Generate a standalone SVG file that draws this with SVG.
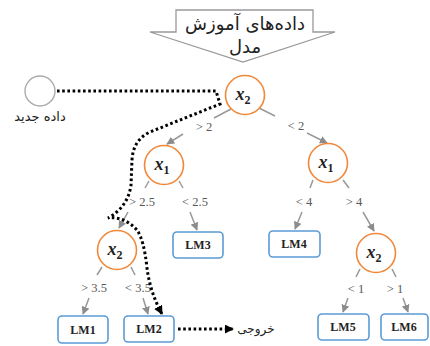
<svg xmlns="http://www.w3.org/2000/svg" width="430" height="346" viewBox="0 0 430 346">
<defs>
<marker id="ga" viewBox="0 0 10 10" refX="9" refY="5" markerWidth="8" markerHeight="8" markerUnits="userSpaceOnUse" orient="auto"><path d="M0,0 L10,5 L0,10 Z" fill="#8c8c8c"/></marker>
<marker id="ba" viewBox="0 0 10 10" refX="9" refY="5" markerWidth="9" markerHeight="9" markerUnits="userSpaceOnUse" orient="auto"><path d="M0,0 L10,5 L0,10 Z" fill="#000"/></marker>
<style>
.c{fill:#fff;stroke:#f0883a;stroke-width:1.6}
.b{fill:#fff;stroke:#5b9bd5;stroke-width:1.6}
.e{stroke:#999;stroke-width:1.5;fill:none}
.ea{stroke:#999;stroke-width:1.5;fill:none;marker-end:url(#ga)}
.d{stroke:#000;stroke-width:3;fill:none;stroke-dasharray:2.6 2.6}
.x{font-family:"Liberation Serif",serif;font-style:italic;font-weight:bold;font-size:18px;fill:#222;text-anchor:middle}
.x tspan{font-size:12px;font-style:normal}
.lm{font-family:"Liberation Serif",serif;font-weight:bold;font-size:12px;fill:#222;text-anchor:middle}
.l{font-family:"Liberation Serif",serif;font-size:12.5px;fill:#595959;text-anchor:middle}
.fa{font-family:"DejaVu Sans",sans-serif;fill:#222;text-anchor:middle}
</style>
</defs>
<g id="training-data">
<path d="M176,10 H313 V32 H335 L243,62 L150,32 H176 Z" fill="#fff" stroke="#999" stroke-width="1.3"/>
<text class="fa" x="245" y="30" font-size="18" direction="rtl">داده‌های آموزش</text>
<text class="fa" x="245" y="53" font-size="18" direction="rtl">مدل</text>
</g>
<g id="connectors">
<line class="e" x1="231" y1="109" x2="214" y2="118"/>
<line class="ea" x1="183" y1="134" x2="167" y2="144"/>
<line class="e" x1="259" y1="108" x2="275" y2="116"/>
<line class="ea" x1="307" y1="133" x2="327" y2="143"/>
<line class="e" x1="149" y1="181" x2="145" y2="188"/>
<line class="ea" x1="128" y1="212" x2="119" y2="228"/>
<line class="e" x1="179" y1="181" x2="183" y2="188"/>
<line class="ea" x1="190" y1="212" x2="197" y2="230"/>
<line class="e" x1="313" y1="180" x2="310" y2="188"/>
<line class="ea" x1="302" y1="212" x2="295" y2="229"/>
<line class="e" x1="343" y1="180" x2="349" y2="188"/>
<line class="ea" x1="363" y1="212" x2="374" y2="231"/>
<line class="e" x1="102" y1="267" x2="97" y2="275"/>
<line class="ea" x1="89" y1="298" x2="83" y2="314"/>
<line class="e" x1="131" y1="267" x2="135" y2="275"/>
<line class="ea" x1="143" y1="298" x2="148" y2="314"/>
<line class="e" x1="360" y1="269" x2="356" y2="277"/>
<line class="ea" x1="348" y1="298" x2="343" y2="312"/>
<line class="e" x1="392" y1="269" x2="396" y2="277"/>
<line class="ea" x1="403" y1="298" x2="408" y2="312"/>
<text class="l" x="204" y="131">&gt; 2</text>
<text class="l" x="296" y="130">&lt; 2</text>
<text class="l" x="142" y="206">&gt; 2.5</text>
<text class="l" x="195" y="206">&lt; 2.5</text>
<text class="l" x="304" y="206">&lt; 4</text>
<text class="l" x="354" y="206">&gt; 4</text>
<text class="l" x="94" y="292">&gt; 3.5</text>
<text class="l" x="138" y="292">&lt; 3.5</text>
<text class="l" x="356" y="293">&lt; 1</text>
<text class="l" x="395" y="293">&gt; 1</text>
<path class="d" d="M57,91 L216,91 L220,104 L150,132 Q133,140 132,160 L131,185 Q128,207 108,218 Q124,216 137,230 Q144,240 147,268 Q150,292 162,314" marker-end="url(#ba)"/>
<path class="d" d="M178,329 H233" marker-end="url(#ba)"/>
<text class="fa" x="256" y="333" font-size="12" direction="rtl">خروجی</text>
</g>
<g id="new-data">
<circle cx="40" cy="91" r="15" fill="#fff" stroke="#aaa" stroke-width="1.4"/>
<text class="fa" x="40" y="121" font-size="13" direction="rtl">داده جدید</text>
</g>
<g id="root"><circle class="c" cx="245" cy="95" r="19.5"/><text class="x" x="243" y="100">x<tspan dy="4">2</tspan></text></g>
<g id="x1-left"><circle class="c" cx="164" cy="165" r="19.5"/><text class="x" x="162" y="170">x<tspan dy="4">1</tspan></text></g>
<g id="x1-right"><circle class="c" cx="328" cy="163" r="19.5"/><text class="x" x="326" y="168">x<tspan dy="4">1</tspan></text></g>
<g id="x2-left"><circle class="c" cx="117" cy="250" r="19.5"/><text class="x" x="115" y="255">x<tspan dy="4">2</tspan></text></g>
<g id="x2-right"><circle class="c" cx="376" cy="253" r="19.5"/><text class="x" x="374" y="258">x<tspan dy="4">2</tspan></text></g>
<g id="LM1"><rect class="b" x="58" y="316" width="50" height="27" rx="4"/><text class="lm" x="83" y="334">LM1</text></g>
<g id="LM2"><rect class="b" x="124" y="316" width="50" height="26" rx="4"/><text class="lm" x="149" y="333">LM2</text></g>
<g id="LM3"><rect class="b" x="173" y="232" width="50" height="26" rx="4"/><text class="lm" x="198" y="249">LM3</text></g>
<g id="LM4"><rect class="b" x="269" y="231" width="51" height="26" rx="4"/><text class="lm" x="294" y="248">LM4</text></g>
<g id="LM5"><rect class="b" x="318" y="314" width="51" height="26" rx="4"/><text class="lm" x="343" y="331">LM5</text></g>
<g id="LM6"><rect class="b" x="381" y="314" width="47" height="26" rx="4"/><text class="lm" x="404" y="331">LM6</text></g>
</svg>
